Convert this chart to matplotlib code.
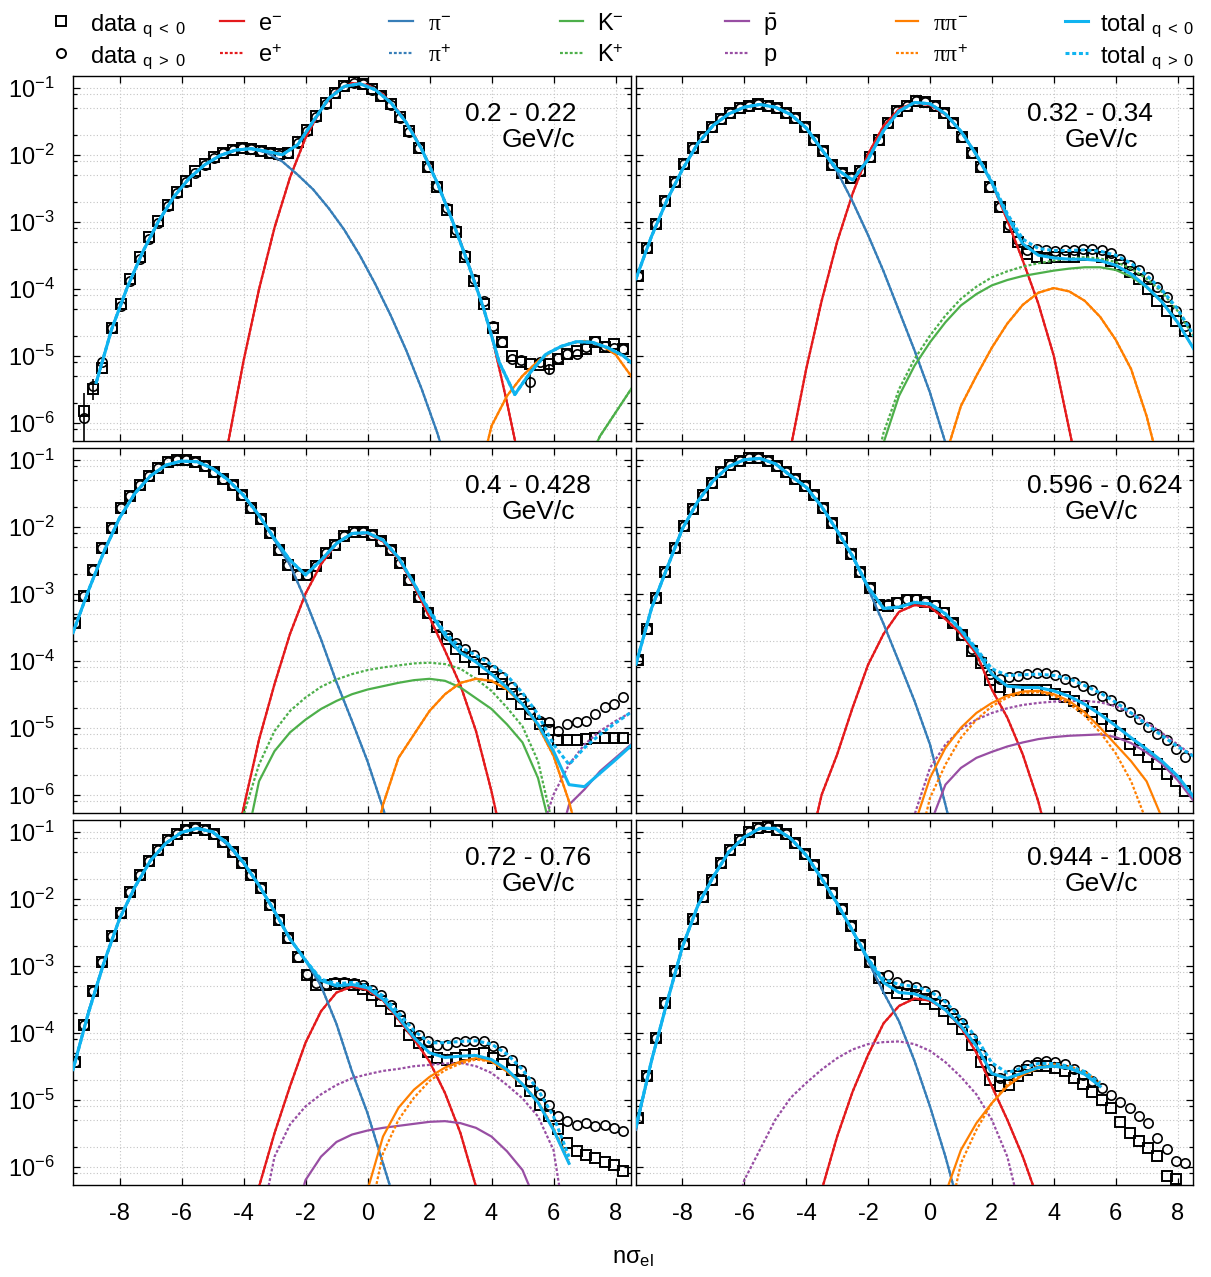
import numpy as np
import matplotlib.pyplot as plt
from matplotlib.lines import Line2D
from matplotlib.ticker import LogLocator, NullFormatter

plt.rcParams['font.family'] = ['Liberation Sans', 'DejaVu Sans']
plt.rcParams['mathtext.fontset'] = 'custom'
plt.rcParams['mathtext.rm'] = 'Liberation Sans'
plt.rcParams['mathtext.it'] = 'Liberation Serif'
plt.rcParams['mathtext.bf'] = 'Liberation Sans:bold'
plt.rcParams['mathtext.sf'] = 'Liberation Sans'
plt.rcParams['axes.unicode_minus'] = False

# ---------------------------------------------------------------- data
# bin centres in n sigma_el (bin width 0.3)
BIN_X = [-9.45, -9.15, -8.85, -8.55, -8.25, -7.95, -7.65, -7.35, -7.05, -6.75,
         -6.45, -6.15, -5.85, -5.55, -5.25, -4.95, -4.65, -4.35, -4.05, -3.75,
         -3.45, -3.15, -2.85, -2.55, -2.25, -1.95, -1.65, -1.35, -1.05, -0.75,
         -0.45, -0.15, 0.15, 0.45, 0.75, 1.05, 1.35, 1.65, 1.95, 2.25,
         2.55, 2.85, 3.15, 3.45, 3.75, 4.05, 4.35, 4.65, 4.95, 5.25,
         5.55, 5.85, 6.15, 6.45, 6.75, 7.05, 7.35, 7.65, 7.95, 8.25]

PANEL_LABELS = ['0.2 - 0.22', '0.32 - 0.34', '0.4 - 0.428',
                '0.596 - 0.624', '0.72 - 0.76', '0.944 - 1.008']

# log10 of the yields, q<0 (squares) and q>0 (circles); None = off scale
P1_NEG = [None, -5.83, -5.50, -5.18, -4.58, -4.23, -3.85, -3.53, -3.23, -2.99,
          -2.75, -2.55, -2.39, -2.25, -2.14, -2.04, -1.97, -1.93, -1.90, -1.92,
          -1.94, -1.97, -1.99, -1.97, -1.81, -1.63, -1.42, -1.23, -1.08, -0.97,
          -0.92, -0.94, -1.02, -1.12, -1.25, -1.44, -1.65, -1.90, -2.18, -2.48,
          -2.82, -3.15, -3.53, -3.89, -4.23, -4.58, -4.80, -5.00, -5.10, -5.12,
          -5.14, -5.13, -5.05, -4.97, -4.93, -4.90, -4.80, -4.87, -4.83, -4.90]
P1_POS = [None, -5.93, -5.45, -5.10, -4.58, -4.26, -3.88, -3.55, -3.26, -3.02,
          -2.77, -2.57, -2.41, -2.27, -2.15, -2.05, -1.98, -1.93, -1.90, -1.92,
          -1.95, -1.98, -2.00, -1.98, -1.83, -1.64, -1.43, -1.24, -1.08, -0.98,
          -0.93, -0.95, -1.03, -1.13, -1.26, -1.45, -1.66, -1.90, -2.18, -2.47,
          -2.80, -3.13, -3.50, -3.86, -4.18, -4.55, -4.80, -5.05, -5.06, -5.39,
          -5.10, -5.20, -5.03, -4.98, -4.98, -4.87, -4.78, -4.85, -4.88, -4.90]
# error bars drawn in panel 1 (log10 low / high)
P1_ERR_X = [-9.15, -8.85, 5.25, 5.85]
P1_ERR_LO = [-6.60, -5.66, -5.55, -5.28]
P1_ERR_HI = [-5.55, -5.35, -5.25, -5.12]

P2_NEG = [-3.81, -3.39, -3.03, -2.69, -2.40, -2.14, -1.90, -1.73, -1.59, -1.47,
          -1.37, -1.31, -1.27, -1.25, -1.27, -1.30, -1.37, -1.45, -1.58, -1.78,
          -1.95, -2.15, -2.28, -2.35, -2.25, -2.03, -1.78, -1.53, -1.35, -1.27,
          -1.20, -1.22, -1.27, -1.38, -1.53, -1.73, -1.97, -2.18, -2.48, -2.78,
          -3.08, -3.30, -3.48, -3.53, -3.54, -3.53, -3.53, -3.52, -3.50, -3.50,
          -3.53, -3.58, -3.65, -3.75, -3.85, -4.00, -4.18, -4.33, -4.48, -4.63]
P2_POS = [-3.81, -3.39, -3.03, -2.69, -2.40, -2.14, -1.90, -1.73, -1.59, -1.47,
          -1.37, -1.31, -1.27, -1.25, -1.27, -1.30, -1.37, -1.45, -1.58, -1.78,
          -1.95, -2.15, -2.28, -2.35, -2.25, -2.03, -1.78, -1.53, -1.35, -1.27,
          -1.20, -1.22, -1.27, -1.38, -1.53, -1.73, -1.97, -2.18, -2.48, -2.78,
          -3.05, -3.27, -3.42, -3.41, -3.42, -3.43, -3.42, -3.42, -3.40, -3.40,
          -3.42, -3.47, -3.56, -3.65, -3.72, -3.82, -3.98, -4.13, -4.33, -4.55]

P3_NEG = [-3.44, -3.03, -2.65, -2.32, -2.02, -1.72, -1.54, -1.38, -1.24, -1.12,
          -1.04, -1.00, -1.00, -1.04, -1.10, -1.18, -1.29, -1.38, -1.52, -1.72,
          -1.89, -2.10, -2.34, -2.57, -2.72, -2.72, -2.58, -2.39, -2.27, -2.14,
          -2.08, -2.08, -2.12, -2.22, -2.34, -2.54, -2.79, -3.05, -3.29, -3.49,
          -3.67, -3.82, -3.94, -4.02, -4.12, -4.24, -4.35, -4.50, -4.65, -4.79,
          -4.94, -5.04, -5.18, -5.19, -5.18, -5.17, -5.16, -5.16, -5.16, -5.15]
P3_POS = [-3.44, -3.03, -2.65, -2.32, -2.02, -1.72, -1.54, -1.38, -1.24, -1.12,
          -1.04, -1.00, -1.00, -1.04, -1.10, -1.18, -1.29, -1.38, -1.52, -1.72,
          -1.89, -2.10, -2.34, -2.57, -2.72, -2.72, -2.58, -2.39, -2.27, -2.14,
          -2.08, -2.08, -2.12, -2.22, -2.34, -2.54, -2.79, -3.05, -3.29, -3.47,
          -3.62, -3.74, -3.82, -3.92, -4.02, -4.14, -4.25, -4.39, -4.55, -4.74,
          -4.90, -4.92, -5.05, -4.95, -4.92, -4.90, -4.79, -4.69, -4.64, -4.54]

P4_NEG = [-3.99, -3.52, -3.07, -2.67, -2.32, -1.99, -1.74, -1.52, -1.34, -1.19,
          -1.08, -1.02, -0.98, -0.98, -1.02, -1.09, -1.19, -1.29, -1.39, -1.53,
          -1.72, -1.95, -2.17, -2.40, -2.68, -2.92, -3.17, -3.18, -3.14, -3.09,
          -3.09, -3.13, -3.18, -3.29, -3.44, -3.62, -3.85, -4.04, -4.29, -4.39,
          -4.43, -4.43, -4.43, -4.43, -4.44, -4.49, -4.54, -4.60, -4.68, -4.77,
          -4.87, -4.98, -5.10, -5.24, -5.34, -5.44, -5.54, -5.69, -5.79, -5.94]
P4_POS = [-3.99, -3.52, -3.07, -2.67, -2.32, -1.99, -1.74, -1.52, -1.34, -1.19,
          -1.08, -1.02, -0.98, -0.98, -1.02, -1.09, -1.19, -1.29, -1.39, -1.53,
          -1.72, -1.95, -2.17, -2.40, -2.68, -2.92, -3.17, -3.16, -3.12, -3.08,
          -3.08, -3.12, -3.17, -3.28, -3.43, -3.61, -3.83, -4.00, -4.20, -4.28,
          -4.25, -4.23, -4.20, -4.18, -4.19, -4.22, -4.27, -4.32, -4.38, -4.44,
          -4.52, -4.59, -4.67, -4.77, -4.87, -4.99, -5.09, -5.19, -5.32, -5.44]

P5_NEG = [-4.43, -3.89, -3.38, -2.95, -2.55, -2.22, -1.90, -1.65, -1.43, -1.27,
          -1.13, -1.03, -0.97, -0.95, -0.98, -1.04, -1.15, -1.30, -1.47, -1.65,
          -1.84, -2.10, -2.32, -2.58, -2.87, -3.14, -3.29, -3.29, -3.28, -3.28,
          -3.29, -3.35, -3.44, -3.53, -3.64, -3.82, -4.03, -4.15, -4.29, -4.38,
          -4.40, -4.37, -4.34, -4.32, -4.30, -4.38, -4.47, -4.55, -4.72, -4.87,
          -5.08, -5.24, -5.44, -5.64, -5.77, -5.82, -5.87, -5.93, -5.97, -6.07]
P5_POS = [-4.43, -3.89, -3.38, -2.95, -2.55, -2.22, -1.90, -1.65, -1.43, -1.27,
          -1.13, -1.03, -0.97, -0.95, -0.98, -1.04, -1.15, -1.30, -1.47, -1.65,
          -1.84, -2.10, -2.32, -2.58, -2.87, -3.12, -3.26, -3.27, -3.25, -3.25,
          -3.26, -3.29, -3.36, -3.43, -3.58, -3.73, -3.92, -4.03, -4.13, -4.19,
          -4.18, -4.14, -4.12, -4.13, -4.13, -4.20, -4.27, -4.40, -4.55, -4.74,
          -4.92, -5.08, -5.24, -5.32, -5.37, -5.35, -5.39, -5.37, -5.42, -5.47]

P6_NEG = [-5.27, -4.64, -4.08, -3.55, -3.08, -2.67, -2.30, -1.98, -1.72, -1.47,
          -1.27, -1.12, -1.00, -0.94, -0.93, -0.97, -1.04, -1.17, -1.33, -1.50,
          -1.72, -1.92, -2.15, -2.40, -2.69, -2.95, -3.19, -3.34, -3.40, -3.42,
          -3.44, -3.49, -3.57, -3.68, -3.80, -3.95, -4.19, -4.44, -4.70, -4.79,
          -4.78, -4.64, -4.55, -4.50, -4.50, -4.53, -4.57, -4.67, -4.77, -4.89,
          -5.00, -5.13, -5.34, -5.49, -5.62, -5.72, -5.84, -6.14, -6.19, None]
P6_POS = [-5.27, -4.64, -4.08, -3.55, -3.08, -2.67, -2.30, -1.98, -1.72, -1.47,
          -1.27, -1.12, -1.00, -0.94, -0.93, -0.97, -1.04, -1.17, -1.33, -1.50,
          -1.72, -1.92, -2.15, -2.40, -2.69, -2.95, -3.17, -3.14, -3.24, -3.29,
          -3.32, -3.38, -3.44, -3.57, -3.70, -3.85, -4.08, -4.32, -4.54, -4.67,
          -4.63, -4.55, -4.48, -4.43, -4.42, -4.43, -4.47, -4.54, -4.63, -4.72,
          -4.82, -4.93, -5.04, -5.13, -5.24, -5.35, -5.57, -5.74, -5.92, -5.94]

# fit curves: (first n sigma, log10 values sampled every 0.5 in n sigma)
P1_E = (-5.0, [-7.2, -6.31, -5.08, -4.01, -3.09, -2.34, -1.75, -1.32, -1.05, -0.93, -0.96,
               -1.10, -1.35, -1.70, -2.15, -2.70, -3.30, -3.95, -4.68, -5.70, -6.80])
P1_PI = (-8.75, [-5.40, -4.60, -3.98, -3.45, -3.00, -2.63, -2.35, -2.15, -2.01, -1.93, -1.91, -1.97,
                 -2.10, -2.30, -2.52, -2.80, -3.12, -3.50, -3.93, -4.40, -4.92, -5.50, -6.15, -6.90])
P1_K = (7.0, [-6.7, -6.2, -5.85, -5.5, -5.2])
P1_PIPI = (3.5, [-7.0, -6.05, -5.6, -5.3, -5.08, -4.92, -4.82, -4.78, -4.83, -4.98, -5.3, -5.75])
P1_TOT = (-8.75, [-5.40, -4.60, -3.98, -3.45, -3.00, -2.63, -2.35, -2.15, -2.01, -1.93, -1.91, -1.95,
                  -2.00, -1.85, -1.50, -1.16, -0.98, -0.94, -1.03, -1.22, -1.52, -1.92, -2.42, -3.00,
                  -3.63, -4.30, -5.10, -5.58, -5.25, -4.98, -4.86, -4.79, -4.80, -4.88, -5.00, -5.20])

P2_PI = (-9.5, [-3.85, -3.22, -2.68, -2.22, -1.83, -1.56, -1.39, -1.29, -1.25, -1.29, -1.40,
                -1.60, -1.93, -2.25, -2.70, -3.20, -3.74, -4.33, -4.92, -5.55, -6.30, -7.10])
P2_E = (-5.0, [-7.4, -6.37, -5.20, -4.18, -3.30, -2.58, -1.99, -1.57, -1.32, -1.22, -1.26,
               -1.40, -1.65, -2.00, -2.42, -2.98, -3.58, -4.22, -5.00, -6.10, -7.20])
P2_KNEG = (-2.0, [-7.2, -6.3, -5.6, -5.15, -4.8, -4.5, -4.25, -4.08, -3.95, -3.87, -3.81, -3.77,
                  -3.73, -3.7, -3.68, -3.68, -3.72, -3.82, -3.98, -4.2, -4.5, -4.88, -5.3])
P2_KPOS = (-2.0, [-7.1, -6.15, -5.5, -5.05, -4.7, -4.4, -4.15, -3.97, -3.83, -3.74, -3.67, -3.62,
                  -3.58, -3.55, -3.53, -3.55, -3.6, -3.7, -3.85, -4.05, -4.33, -4.7, -5.1])
P2_PIPI = (0.0, [-7.2, -6.5, -5.75, -5.3, -4.88, -4.52, -4.24, -4.06, -3.99, -4.04, -4.18, -4.42,
                 -4.76, -5.2, -5.9, -6.8])
P2_TOTNEG = (-9.5, [-3.85, -3.22, -2.68, -2.22, -1.83, -1.56, -1.39, -1.29, -1.25, -1.29, -1.40,
                    -1.60, -1.92, -2.22, -2.38, -2.07, -1.64, -1.35, -1.22, -1.24, -1.39, -1.65,
                    -2.00, -2.42, -2.92, -3.33, -3.50, -3.54, -3.56, -3.56, -3.58, -3.65, -3.78,
                    -3.97, -4.20, -4.50, -4.88, -5.30])
P2_TOTPOS = (-9.5, [-3.85, -3.22, -2.68, -2.22, -1.83, -1.56, -1.39, -1.29, -1.25, -1.29, -1.40,
                    -1.60, -1.92, -2.22, -2.38, -2.07, -1.64, -1.35, -1.22, -1.24, -1.39, -1.65,
                    -2.00, -2.40, -2.88, -3.26, -3.40, -3.43, -3.43, -3.42, -3.44, -3.50, -3.62,
                    -3.80, -4.02, -4.30, -4.68, -5.10])

P3_PI = (-9.5, [-3.58, -2.95, -2.37, -1.87, -1.50, -1.24, -1.08, -1.02, -1.03, -1.13, -1.30,
                -1.53, -1.83, -2.20, -2.57, -3.10, -3.68, -4.32, -4.90, -5.50, -6.20, -7.00])
P3_E = (-4.5, [-7.3, -6.2, -5.18, -4.35, -3.6, -3.0, -2.56, -2.25, -2.1, -2.1, -2.22, -2.48,
               -2.88, -3.35, -3.85, -4.37, -5.05, -5.95, -7.0])
P3_KNEG = (-4.0, [-6.9, -5.8, -5.35, -5.07, -4.88, -4.72, -4.6, -4.5, -4.43, -4.38, -4.33, -4.29,
                  -4.27, -4.3, -4.4, -4.56, -4.72, -4.95, -5.22, -5.75, -6.7])
P3_KPOS = (-4.5, [-7.2, -6.3, -5.55, -5.05, -4.75, -4.55, -4.39, -4.28, -4.2, -4.14, -4.1, -4.07,
                  -4.04, -4.03, -4.05, -4.12, -4.27, -4.45, -4.7, -4.98, -5.5, -6.5])
P3_PIPI = (0.0, [-7.2, -6.15, -5.45, -5.1, -4.75, -4.5, -4.33, -4.27, -4.3, -4.43, -4.65, -4.97,
                 -5.42, -6.1, -7.0])
P3_PBAR = (6.0, [-7.0, -6.15, -5.92, -5.65, -5.45, -5.25, -5.05])
P3_P = (5.5, [-6.7, -6.0, -5.55, -5.25, -5.05, -4.9, -4.77, -4.65])
P3_TOTNEG = (-9.5, [-3.58, -2.95, -2.37, -1.87, -1.50, -1.24, -1.08, -1.02, -1.03, -1.13, -1.30,
                    -1.53, -1.83, -2.18, -2.50, -2.72, -2.50, -2.25, -2.10, -2.09, -2.20, -2.46,
                    -2.85, -3.27, -3.62, -3.88, -4.02, -4.20, -4.40, -4.65, -4.95, -5.35, -5.85,
                    -5.88, -5.68, -5.48, -5.27, -5.08])
P3_TOTPOS = (-9.5, [-3.58, -2.95, -2.37, -1.87, -1.50, -1.24, -1.08, -1.02, -1.03, -1.13, -1.30,
                    -1.53, -1.83, -2.18, -2.50, -2.72, -2.50, -2.25, -2.10, -2.09, -2.20, -2.46,
                    -2.85, -3.25, -3.58, -3.80, -3.92, -4.06, -4.22, -4.48, -4.80, -5.25, -5.55,
                    -5.30, -5.10, -4.93, -4.77, -4.63])

P4_PI = (-9.5, [-4.05, -3.22, -2.62, -2.03, -1.62, -1.31, -1.10, -1.00, -0.98, -1.06, -1.24,
                -1.41, -1.70, -2.06, -2.45, -2.92, -3.45, -4.02, -4.60, -5.25, -6.15, -7.10])
P4_E = (-4.0, [-7.0, -6.0, -5.4, -4.7, -4.06, -3.6, -3.27, -3.17, -3.2, -3.38, -3.6, -3.9,
               -4.43, -4.85, -5.4, -6.1, -7.0])
P4_PIPINEG = (-0.5, [-6.45, -5.75, -5.3, -5.0, -4.78, -4.63, -4.52, -4.46, -4.45, -4.5, -4.6,
                     -4.77, -5.0, -5.25, -5.5, -5.8, -6.35])
P4_PIPIPOS = (-0.5, [-7.0, -6.05, -5.55, -5.15, -4.88, -4.68, -4.55, -4.48, -4.47, -4.52, -4.64,
                     -4.82, -5.07, -5.38, -5.8, -6.4, -7.2])
P4_PBAR = (0.0, [-6.45, -5.85, -5.6, -5.45, -5.36, -5.28, -5.22, -5.17, -5.14, -5.12, -5.11,
                 -5.1, -5.14, -5.23, -5.37, -5.54, -5.78, -6.08, -6.4])
P4_P = (-1.0, [-7.2, -6.3, -5.6, -5.25, -5.02, -4.88, -4.78, -4.71, -4.66, -4.63, -4.61, -4.6,
               -4.6, -4.62, -4.68, -4.78, -4.92, -5.08, -5.25, -5.42, -5.6])
P4_TOTNEG = (-9.5, [-4.05, -3.22, -2.62, -2.03, -1.62, -1.31, -1.10, -1.00, -0.98, -1.06, -1.24,
                    -1.41, -1.70, -2.06, -2.44, -2.90, -3.22, -3.20, -3.13, -3.15, -3.30, -3.55,
                    -3.85, -4.20, -4.38, -4.40, -4.40, -4.45, -4.53, -4.65, -4.80, -4.97, -5.15,
                    -5.32, -5.50, -5.72, -6.02, -6.35])
P4_TOTPOS = (-9.5, [-4.05, -3.22, -2.62, -2.03, -1.62, -1.31, -1.10, -1.00, -0.98, -1.06, -1.24,
                    -1.41, -1.70, -2.06, -2.44, -2.90, -3.22, -3.20, -3.13, -3.15, -3.30, -3.53,
                    -3.82, -4.12, -4.22, -4.21, -4.20, -4.22, -4.27, -4.37, -4.48, -4.62, -4.78,
                    -4.95, -5.12, -5.28, -5.42, -5.60])

P5_PI = (-9.5, [-4.55, -3.68, -2.95, -2.30, -1.83, -1.43, -1.17, -1.01, -0.95, -1.01, -1.20,
                -1.47, -1.80, -2.18, -2.60, -2.92, -3.30, -3.87, -4.58, -5.20, -5.95, -6.70])
P5_E = (-4.0, [-7.3, -6.3, -5.5, -4.8, -4.15, -3.68, -3.4, -3.31, -3.36, -3.52, -3.8, -4.1,
               -4.43, -4.9, -5.5, -6.3, -7.2])
P5_PBAR = (-2.5, [-7.0, -6.2, -5.85, -5.63, -5.52, -5.46, -5.42, -5.39, -5.36, -5.33, -5.32,
                  -5.35, -5.42, -5.55, -5.77, -6.05, -6.6])
P5_P = (-3.5, [-7.0, -5.85, -5.37, -5.1, -4.92, -4.78, -4.68, -4.62, -4.57, -4.54, -4.5, -4.48,
               -4.46, -4.45, -4.5, -4.6, -4.78, -4.98, -5.25, -5.75, -7.2])
P5_PIPINEG = (-0.5, [-7.1, -6.35, -5.55, -5.12, -4.85, -4.66, -4.52, -4.43, -4.38, -4.43, -4.58,
                     -4.78, -5.04, -5.45, -5.95])
P5_PIPIPOS = (0.0, [-6.9, -5.8, -5.3, -4.97, -4.72, -4.56, -4.46, -4.4, -4.43, -4.56, -4.76,
                    -5.02, -5.42, -5.9])
P5_TOTNEG = (-9.5, [-4.55, -3.70, -2.95, -2.30, -1.82, -1.43, -1.17, -1.01, -0.95, -1.00, -1.18,
                    -1.46, -1.80, -2.19, -2.60, -2.92, -3.22, -3.30, -3.28, -3.33, -3.50, -3.77,
                    -4.07, -4.30, -4.37, -4.35, -4.34, -4.40, -4.55, -4.77, -5.04, -5.45, -5.95])
P5_TOTPOS = (-9.5, [-4.55, -3.70, -2.95, -2.30, -1.82, -1.43, -1.17, -1.01, -0.95, -1.00, -1.18,
                    -1.46, -1.80, -2.19, -2.60, -2.92, -3.20, -3.27, -3.25, -3.30, -3.45, -3.70,
                    -3.97, -4.15, -4.15, -4.13, -4.12, -4.17, -4.32, -4.55, -4.85, -5.25, -5.85])

P6_PI = (-9.5, [-5.45, -4.42, -3.55, -2.72, -2.10, -1.67, -1.30, -1.08, -0.95, -0.96, -1.10,
                -1.35, -1.70, -2.07, -2.48, -2.93, -3.40, -3.83, -4.42, -5.10, -5.85, -6.70])
P6_E = (-4.0, [-7.4, -6.35, -5.55, -4.88, -4.33, -3.86, -3.6, -3.49, -3.52, -3.66, -3.92, -4.3,
               -4.8, -5.3, -5.85, -6.5])
P6_P = (-6.5, [-7.0, -6.2, -5.75, -5.3, -4.97, -4.75, -4.55, -4.38, -4.25, -4.17, -4.14, -4.13,
               -4.17, -4.27, -4.44, -4.66, -4.92, -5.3, -5.85, -6.8])
P6_PIPINEG = (0.0, [-7.2, -6.4, -5.75, -5.35, -5.05, -4.8, -4.63, -4.53, -4.5, -4.53, -4.62, -4.8])
P6_PIPIPOS = (0.5, [-7.0, -5.95, -5.45, -5.05, -4.77, -4.6, -4.5, -4.47, -4.5, -4.58, -4.75])
P6_TOTNEG = (-9.5, [-5.40, -4.42, -3.55, -2.72, -2.10, -1.67, -1.30, -1.08, -0.95, -0.95, -1.10,
                    -1.35, -1.70, -2.07, -2.48, -2.90, -3.25, -3.40, -3.42, -3.50, -3.66, -3.90,
                    -4.20, -4.61, -4.68, -4.60, -4.52, -4.50, -4.53, -4.62, -4.80])
P6_TOTPOS = (-9.5, [-5.40, -4.42, -3.55, -2.72, -2.10, -1.67, -1.30, -1.08, -0.95, -0.95, -1.10,
                    -1.35, -1.70, -2.07, -2.48, -2.90, -3.20, -3.28, -3.31, -3.38, -3.54, -3.78,
                    -4.08, -4.45, -4.60, -4.52, -4.46, -4.46, -4.50, -4.58, -4.75])

# per-panel table built from the arrays above
PANELS = [
    dict(neg=P1_NEG, pos=P1_POS, e_neg=P1_E, e_pos=P1_E, pi_neg=P1_PI, pi_pos=P1_PI,
         k_neg=P1_K, k_pos=P1_K, pbar=None, p=None, pipi_neg=P1_PIPI, pipi_pos=P1_PIPI,
         tot_neg=P1_TOT, tot_pos=P1_TOT),
    dict(neg=P2_NEG, pos=P2_POS, e_neg=P2_E, e_pos=P2_E, pi_neg=P2_PI, pi_pos=P2_PI,
         k_neg=P2_KNEG, k_pos=P2_KPOS, pbar=None, p=None, pipi_neg=P2_PIPI, pipi_pos=P2_PIPI,
         tot_neg=P2_TOTNEG, tot_pos=P2_TOTPOS),
    dict(neg=P3_NEG, pos=P3_POS, e_neg=P3_E, e_pos=P3_E, pi_neg=P3_PI, pi_pos=P3_PI,
         k_neg=P3_KNEG, k_pos=P3_KPOS, pbar=P3_PBAR, p=P3_P, pipi_neg=P3_PIPI, pipi_pos=P3_PIPI,
         tot_neg=P3_TOTNEG, tot_pos=P3_TOTPOS),
    dict(neg=P4_NEG, pos=P4_POS, e_neg=P4_E, e_pos=P4_E, pi_neg=P4_PI, pi_pos=P4_PI,
         k_neg=None, k_pos=None, pbar=P4_PBAR, p=P4_P, pipi_neg=P4_PIPINEG, pipi_pos=P4_PIPIPOS,
         tot_neg=P4_TOTNEG, tot_pos=P4_TOTPOS),
    dict(neg=P5_NEG, pos=P5_POS, e_neg=P5_E, e_pos=P5_E, pi_neg=P5_PI, pi_pos=P5_PI,
         k_neg=None, k_pos=None, pbar=P5_PBAR, p=P5_P, pipi_neg=P5_PIPINEG, pipi_pos=P5_PIPIPOS,
         tot_neg=P5_TOTNEG, tot_pos=P5_TOTPOS),
    dict(neg=P6_NEG, pos=P6_POS, e_neg=P6_E, e_pos=P6_E, pi_neg=P6_PI, pi_pos=P6_PI,
         k_neg=None, k_pos=None, pbar=None, p=P6_P, pipi_neg=P6_PIPINEG, pipi_pos=P6_PIPIPOS,
         tot_neg=P6_TOTNEG, tot_pos=P6_TOTPOS),
]

# ---------------------------------------------------------------- style
RED = '#e41a1c'
BLUE = '#377eb8'
GREEN = '#4daf4a'
PURPLE = '#984ea3'
ORANGE = '#ff7f00'
CYAN = '#10b4f0'
DOT = (0, (1.3, 0.9))
GRID = '#c4c4c4'

W, H = 1211, 1277
COL_LEFT = [73, 636]
COL_W = [558, 557]
ROW_TOP = [76, 448, 820]
PANEL_H = 365
YLIM = (10 ** -6.273, 10 ** -0.825)
XLIM = (-9.5, 8.5)


def draw_curve(ax, spec, color, ls='-', lw=1.6, z=4):
    if spec is None:
        return
    x0, vals = spec
    x = x0 + 0.5 * np.arange(len(vals))
    ax.plot(x, 10.0 ** np.array(vals), color=color, ls=ls, lw=lw, zorder=z)


fig = plt.figure(figsize=(W / 100, H / 100), dpi=100)

for i, pan in enumerate(PANELS):
    r, c = divmod(i, 2)
    ax = fig.add_axes([COL_LEFT[c] / W, 1 - (ROW_TOP[r] + PANEL_H) / H,
                       COL_W[c] / W, PANEL_H / H])
    ax.set_yscale('log')
    ax.set_xlim(*XLIM)
    ax.set_ylim(*YLIM)
    ax.set_axisbelow(True)

    bx = np.array(BIN_X)
    ax.plot(bx, 10.0 ** np.array(pan['neg'], dtype=float), ls='none', marker='s', ms=7.1,
            mfc='none', mec='black', mew=1.4, zorder=2)
    ax.plot(bx, 10.0 ** np.array(pan['pos'], dtype=float), ls='none', marker='o', ms=6.7,
            mfc='none', mec='black', mew=1.2, zorder=2)
    if i == 0:
        ax.vlines(P1_ERR_X, 10.0 ** np.array(P1_ERR_LO), 10.0 ** np.array(P1_ERR_HI),
                  color='black', lw=1.2, zorder=2)

    draw_curve(ax, pan['e_neg'], RED)
    draw_curve(ax, pan['e_pos'], RED, DOT)
    draw_curve(ax, pan['pi_neg'], BLUE)
    draw_curve(ax, pan['pi_pos'], BLUE, DOT)
    draw_curve(ax, pan['k_neg'], GREEN)
    draw_curve(ax, pan['k_pos'], GREEN, DOT)
    draw_curve(ax, pan['pbar'], PURPLE)
    draw_curve(ax, pan['p'], PURPLE, DOT)
    draw_curve(ax, pan['pipi_neg'], ORANGE)
    draw_curve(ax, pan['pipi_pos'], ORANGE, DOT)
    draw_curve(ax, pan['tot_neg'], CYAN, lw=2.2, z=5)
    draw_curve(ax, pan['tot_pos'], CYAN, DOT, lw=2.2, z=5)

    ax.set_xticks([-8, -6, -4, -2, 0, 2, 4, 6, 8])
    ax.yaxis.set_major_locator(LogLocator(base=10, numticks=20))
    ax.yaxis.set_minor_locator(LogLocator(base=10, subs=(2.0, 5.0, 8.0), numticks=20))
    ax.yaxis.set_minor_formatter(NullFormatter())
    ax.tick_params(which='both', direction='in', top=True, right=True, width=0.9,
                   labelsize=17, pad=13)
    ax.tick_params(which='major', length=5)
    ax.tick_params(which='minor', length=3)
    if c == 1:
        ax.tick_params(labelleft=False)
    if r < 2:
        ax.tick_params(labelbottom=False)
    ax.grid(True, which='major', axis='x', color=GRID, ls=(0, (1, 2)), lw=0.8)
    ax.grid(True, which='both', axis='y', color=GRID, ls=(0, (1, 2)), lw=0.8)
    for s in ax.spines.values():
        s.set_linewidth(1.0)

    ax.text(0.7025, 0.897, PANEL_LABELS[i], transform=ax.transAxes, fontsize=19,
            ha='left', va='center', zorder=6)
    ax.text(0.769, 0.825, 'GeV/c', transform=ax.transAxes, fontsize=19,
            ha='left', va='center', zorder=6)

fig.text(633 / W, 1 - 1258 / H, 'nσ$_{\\mathregular{el}}$', fontsize=17,
         ha='center', va='center')

# ---------------------------------------------------------------- legend
LEG_ROWS = [21, 53]
LEG_ENTRIES = [
    # (handle start, handle end, text x, [(label, color, style) per row])
    (None, 61, 90, [('data $_{\\mathregular{q\\ <\\ 0}}$', 's'),
                    ('data $_{\\mathregular{q\\ >\\ 0}}$', 'o')]),
    (220, 244, 258, [('e$^{-}$', RED, '-'), ('e$^{+}$', RED, DOT)]),
    (389, 413, 428, [('$\\pi^{-}$', BLUE, '-'), ('$\\pi^{+}$', BLUE, DOT)]),
    (560, 583, 597, [('K$^{-}$', GREEN, '-'), ('K$^{+}$', GREEN, DOT)]),
    (725, 749, 763, [('$\\bar{\\mathregular{p}}$', PURPLE, '-'), ('p', PURPLE, DOT)]),
    (896, 918, 933, [('$\\pi\\pi^{-}$', ORANGE, '-'), ('$\\pi\\pi^{+}$', ORANGE, DOT)]),
    (1065, 1088, 1100, [('total $_{\\mathregular{q\\ <\\ 0}}$', CYAN, '-'),
                        ('total $_{\\mathregular{q\\ >\\ 0}}$', CYAN, DOT)]),
]
for x1, x2, tx, rows in LEG_ENTRIES:
    for yrow, entry in zip(LEG_ROWS, rows):
        fy = 1 - yrow / H
        if x1 is None:
            label, mk = entry
            fig.add_artist(Line2D([x2 / W], [fy], transform=fig.transFigure, ls='none',
                                  marker=mk, ms=6.5, mfc='none', mec='black', mew=1.4))
        else:
            label, color, ls = entry
            lw = 2.2 if color == CYAN else 1.6
            fig.add_artist(Line2D([x1 / W, x2 / W], [fy, fy], transform=fig.transFigure,
                                  color=color, ls=ls, lw=lw))
        fig.text(tx / W, fy, label, fontsize=17, ha='left', va='center_baseline')

fig.savefig('out.png', dpi=100)
